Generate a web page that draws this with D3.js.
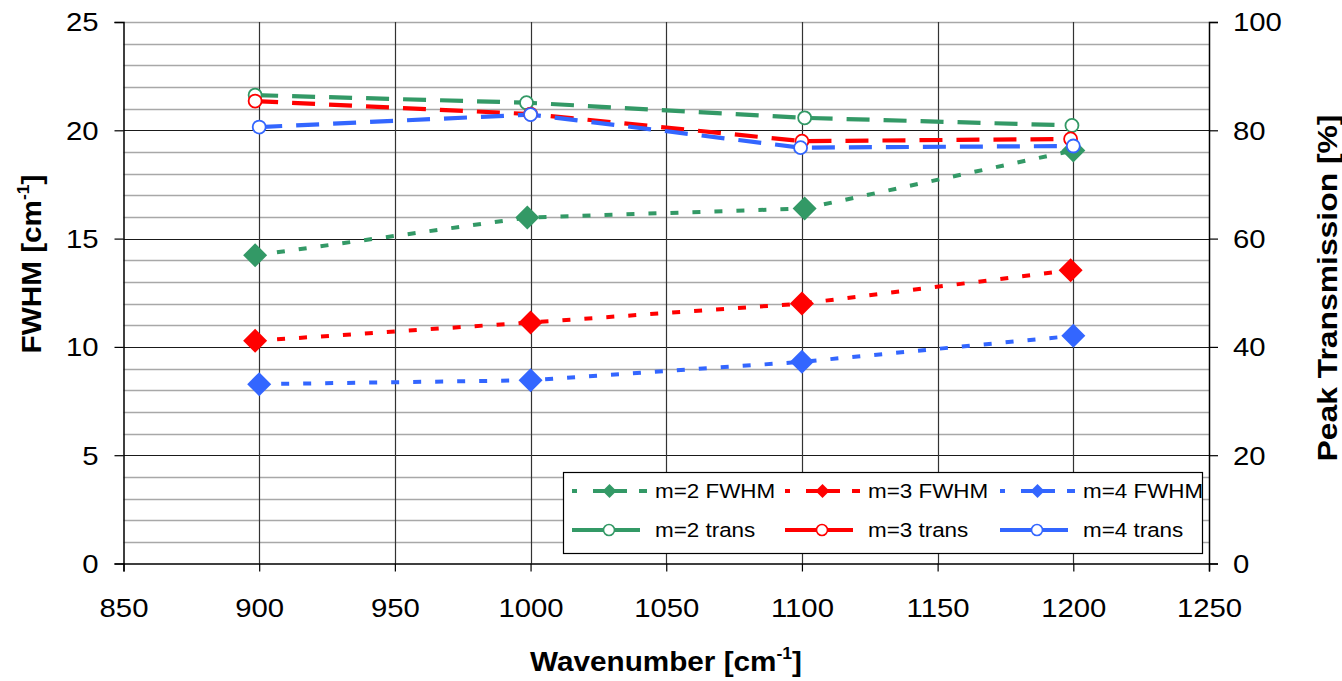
<!DOCTYPE html>
<html><head><meta charset="utf-8">
<script src="https://cdn.jsdelivr.net/npm/d3@7"></script>
<style>
html,body{margin:0;padding:0;background:#fff;}
svg{display:block;font-family:"Liberation Sans",Arial,sans-serif;}
</style></head>
<body>
<svg id="chart" width="1342" height="681"></svg>
<script>
// ---- data ----
const xTickValues = [850, 900, 950, 1000, 1050, 1100, 1150, 1200, 1250];
const yLeftTickValues = [0, 5, 10, 15, 20, 25];
const yRightTickValues = [0, 20, 40, 60, 80, 100];

const wnM2Fwhm = [898.5, 998.8, 1101, 1200];
const fwhmM2   = [14.23, 15.97, 16.39, 19.07];
const wnM3Fwhm = [898.5, 1000, 1100, 1199];
const fwhmM3   = [10.28, 11.13, 12.0, 13.54];
const wnM4Fwhm = [900, 1000, 1100, 1200];
const fwhmM4   = [8.28, 8.46, 9.31, 10.51];

const wnM2Trans = [898.5, 998.5, 1101, 1199.5];
const transM2   = [86.5, 85.1, 82.3, 80.9];
const wnM3Trans = [898.5, 1000, 1100, 1199];
const transM3   = [85.4, 83.0, 78.0, 78.4];
const wnM4Trans = [900, 1000, 1099.5, 1200];
const transM4   = [80.6, 82.9, 76.8, 77.1];

const seriesNames = ["m=2 FWHM", "m=3 FWHM", "m=4 FWHM", "m=2 trans", "m=3 trans", "m=4 trans"];
const colors = {m2: "#339966", m3: "#FF0000", m4: "#3366FF"};

// ---- layout ----
const svg = d3.select("#chart");
const L = 123.5, R = 1209, T = 22, B = 563.5;
const x = d3.scaleLinear().domain([850, 1250]).range([L, R]);
const y = d3.scaleLinear().domain([0, 25]).range([B, T]);
const y2 = d3.scaleLinear().domain([0, 100]).range([B, T]);
const SX = 1.15;

// grid
const grid = svg.append("g");
grid.selectAll("line.minor").data(d3.range(0, 26, 1).filter(v => v % 5 !== 0 || v === 25))
  .join("line").attr("x1", L).attr("x2", R)
  .attr("y1", d => Math.round(y(d)) + 0.5).attr("y2", d => Math.round(y(d)) + 0.5)
  .attr("stroke", "#a8a8a8").attr("stroke-width", 1.3);
grid.selectAll("line.major").data([5, 10, 15, 20])
  .join("line").attr("x1", L).attr("x2", R)
  .attr("y1", d => Math.round(y(d)) + 0.5).attr("y2", d => Math.round(y(d)) + 0.5)
  .attr("stroke", "#1a1a1a").attr("stroke-width", 1.2);
grid.selectAll("line.v").data(xTickValues.slice(1, -1))
  .join("line").attr("y1", T).attr("y2", B)
  .attr("x1", d => Math.round(x(d)) + 0.5).attr("x2", d => Math.round(x(d)) + 0.5)
  .attr("stroke", "#333").attr("stroke-width", 1.2);

// axes
const fontTick = "25.5px";
const gx = svg.append("g").attr("transform", `translate(0,${B})`)
  .call(d3.axisBottom(x).tickValues(xTickValues).tickSize(8).tickPadding(26).tickFormat(d3.format("d")));
const gy = svg.append("g").attr("transform", `translate(${L},0)`)
  .call(d3.axisLeft(y).tickValues(yLeftTickValues).tickSize(9).tickPadding(0).tickFormat(d3.format("d")));
const gy2 = svg.append("g").attr("transform", `translate(${R},0)`)
  .call(d3.axisRight(y2).tickValues(yRightTickValues).tickSize(9).tickPadding(0).tickFormat(d3.format("d")));
[gx, gy, gy2].forEach(g => {
  g.select(".domain").attr("stroke", "#000").attr("stroke-width", 1.5);
  g.selectAll(".tick line").attr("stroke", "#000").attr("stroke-width", 1.2);
  g.selectAll("text").attr("font-size", fontTick).attr("fill", "#000")
    .attr("font-family", "Liberation Sans, Arial, sans-serif");
});
gx.selectAll("text").attr("y", 0).attr("dy", 0)
  .attr("transform", `translate(0,53) scale(${SX},1)`);
gy.selectAll("text").attr("x", 0).attr("dy", "0.35em").attr("text-anchor", "end")
  .attr("transform", `translate(-25,0) scale(${SX},1)`);
gy2.selectAll("text").attr("x", 0).attr("dy", "0.35em").attr("text-anchor", "start")
  .attr("transform", `translate(24,0) scale(${SX},1)`);

// lines & markers
const diamond = s => `M0,${-s}L${s},0L0,${s}L${-s},0Z`;
function fwhmSeries(wn, vals, col) {
  const pts = wn.map((w, i) => [w, vals[i]]);
  const line = d3.line().x(d => x(d[0])).y(d => y(d[1]));
  svg.append("path").datum(pts).attr("d", line).attr("fill", "none")
    .attr("stroke", col).attr("stroke-width", 4).attr("stroke-dasharray", "8,14");
  svg.append("g").selectAll("path").data(pts).join("path")
    .attr("d", diamond(12)).attr("fill", col)
    .attr("transform", d => `translate(${x(d[0])},${y(d[1])})`);
}
function transSeries(wn, vals, col) {
  const pts = wn.map((w, i) => [w, vals[i]]);
  const line = d3.line().x(d => x(d[0])).y(d => y2(d[1]));
  svg.append("path").datum(pts).attr("d", line).attr("fill", "none")
    .attr("stroke", col).attr("stroke-width", 4.2).attr("stroke-dasharray", "23,14");
  return pts;
}
fwhmSeries(wnM2Fwhm, fwhmM2, colors.m2);
fwhmSeries(wnM3Fwhm, fwhmM3, colors.m3);
fwhmSeries(wnM4Fwhm, fwhmM4, colors.m4);
const tp = [
  [transSeries(wnM2Trans, transM2, colors.m2), colors.m2],
  [transSeries(wnM3Trans, transM3, colors.m3), colors.m3],
  [transSeries(wnM4Trans, transM4, colors.m4), colors.m4]
];
tp.forEach(([pts, col]) => {
  svg.append("g").selectAll("circle").data(pts).join("circle")
    .attr("cx", d => x(d[0])).attr("cy", d => y2(d[1])).attr("r", 6.5)
    .attr("fill", "#fff").attr("stroke", col).attr("stroke-width", 1.8);
});

// legend
const lg = svg.append("g");
lg.append("rect").attr("x", 563.5).attr("y", 472.5).attr("width", 639).attr("height", 81)
  .attr("fill", "#fff").attr("stroke", "#000").attr("stroke-width", 1.2);
const colX = [572, 785, 1000];
const rowY = [491, 530];
const legCols = [colors.m2, colors.m3, colors.m4];
seriesNames.forEach((name, i) => {
  const c = i % 3, r = Math.floor(i / 3);
  const x0 = colX[c], yy = rowY[r], col = legCols[c];
  const g = lg.append("g");
  if (r === 0) {
    g.append("line").attr("x1", x0).attr("x2", x0 + 75).attr("y1", yy).attr("y2", yy)
      .attr("stroke", col).attr("stroke-width", 4).attr("stroke-dasharray", "5,16,34,12,8");
    g.append("path").attr("d", diamond(7)).attr("fill", col)
      .attr("transform", `translate(${x0 + 37.5},${yy})`);
  } else {
    g.append("line").attr("x1", x0).attr("x2", x0 + 68).attr("y1", yy).attr("y2", yy)
      .attr("stroke", col).attr("stroke-width", 4);
    g.append("circle").attr("cx", x0 + 37).attr("cy", yy).attr("r", 5.5)
      .attr("fill", "#fff").attr("stroke", col).attr("stroke-width", 1.6);
  }
  g.append("text").attr("transform", `translate(${x0 + 83},${yy + 7}) scale(${SX},1)`)
    .attr("font-size", "19.5px").attr("fill", "#000").text(name);
});

// titles
const xt = svg.append("text").attr("text-anchor", "middle")
  .attr("transform", `translate(666,671) scale(1.1,1)`)
  .attr("font-size", "27px").attr("font-weight", "bold").attr("fill", "#000");
xt.append("tspan").text("Wavenumber [cm");
xt.append("tspan").attr("font-size", "16px").attr("dy", "-12").text("-1");
xt.append("tspan").attr("dy", "12").text("]");

const ylt = svg.append("text").attr("text-anchor", "middle")
  .attr("transform", `translate(41,264) rotate(-90) scale(1.1,1)`)
  .attr("font-size", "27px").attr("font-weight", "bold").attr("fill", "#000");
ylt.append("tspan").text("FWHM [cm");
ylt.append("tspan").attr("font-size", "16px").attr("dy", "-12").text("-1");
ylt.append("tspan").attr("dy", "12").text("]");

svg.append("text").attr("text-anchor", "middle")
  .attr("transform", `translate(1337,288) rotate(-90) scale(1.18,1)`)
  .attr("font-size", "27px").attr("font-weight", "bold").attr("fill", "#000")
  .text("Peak Transmission [%]");
</script>
</body></html>
